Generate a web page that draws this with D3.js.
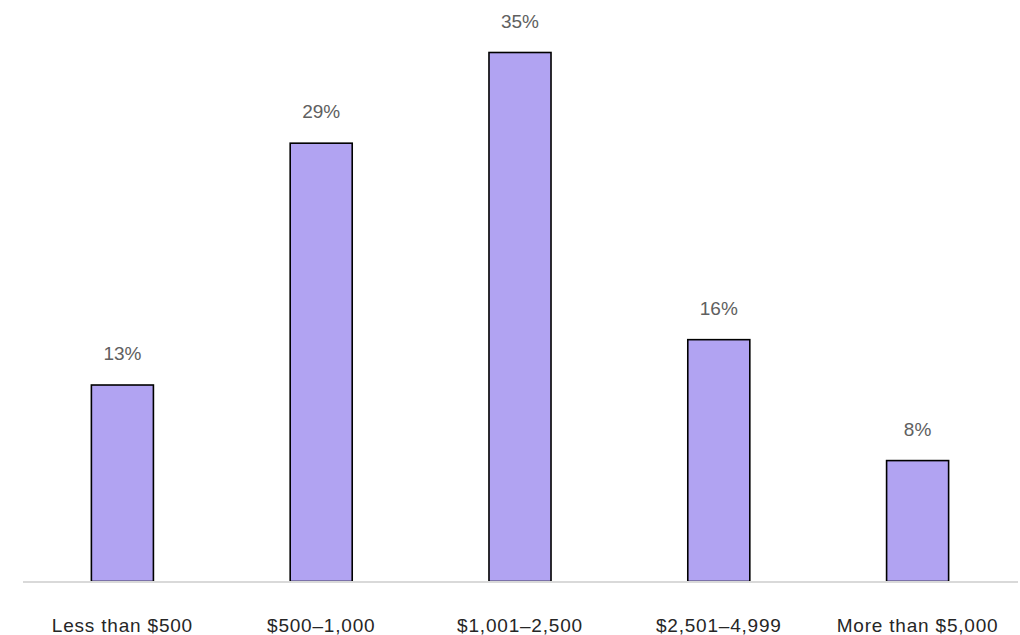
<!DOCTYPE html>
<html>
<head>
<meta charset="utf-8">
<script src="https://cdn.jsdelivr.net/npm/d3@7"></script>
<style>
  html, body { margin: 0; padding: 0; background: #ffffff; }
  svg { display: block; }
</style>
</head>
<body>
<svg id="chart" width="1020" height="635"></svg>
<script>
const categories = ["Less than $500", "$500\u20131,000", "$1,001\u20132,500", "$2,501\u20134,999", "More than $5,000"];
const values = [13, 29, 35, 16, 8];
const valueLabels = ["13%", "29%", "35%", "16%", "8%"];

const svg = d3.select("#chart");
const baseY = 581.5;
const x = d3.scaleBand().domain(categories).range([23, 1017]).paddingInner(0.688).paddingOuter(0.344);
const y = d3.scaleLinear().domain([0, 35]).range([baseY, 52.5]);

svg.selectAll("rect.bar")
  .data(values)
  .join("rect")
  .attr("class", "bar")
  .attr("x", (d, i) => x(categories[i]))
  .attr("width", x.bandwidth())
  .attr("y", d => y(d))
  .attr("height", d => baseY - y(d))
  .attr("fill", "#b1a3f2")
  .attr("stroke", "#000000")
  .attr("stroke-width", 1.6);

svg.append("line")
  .attr("x1", 23).attr("x2", 1018)
  .attr("y1", baseY + 0.5).attr("y2", baseY + 0.5)
  .attr("stroke", "#d9d9d9").attr("stroke-width", 2);

svg.selectAll("text.val")
  .data(values)
  .join("text")
  .attr("class", "val")
  .attr("x", (d, i) => x(categories[i]) + x.bandwidth() / 2)
  .attr("y", d => y(d) - 25)
  .attr("text-anchor", "middle")
  .attr("font-family", "Liberation Sans, Arial, sans-serif")
  .attr("font-size", 19)
  .attr("fill", "#606060")
  .text((d, i) => valueLabels[i]);

const xAxis = d3.axisBottom(x).tickSize(0).tickPadding(0);
const g = svg.append("g").attr("transform", `translate(0, 632)`).call(xAxis);
g.select(".domain").remove();
g.selectAll("text")
  .attr("dy", 0)
  .attr("y", 0)
  .attr("font-family", "Liberation Sans, Arial, sans-serif")
  .attr("font-size", 19)
  .attr("letter-spacing", "0.8px")
  .attr("fill", "#262626");
</script>
</body>
</html>
